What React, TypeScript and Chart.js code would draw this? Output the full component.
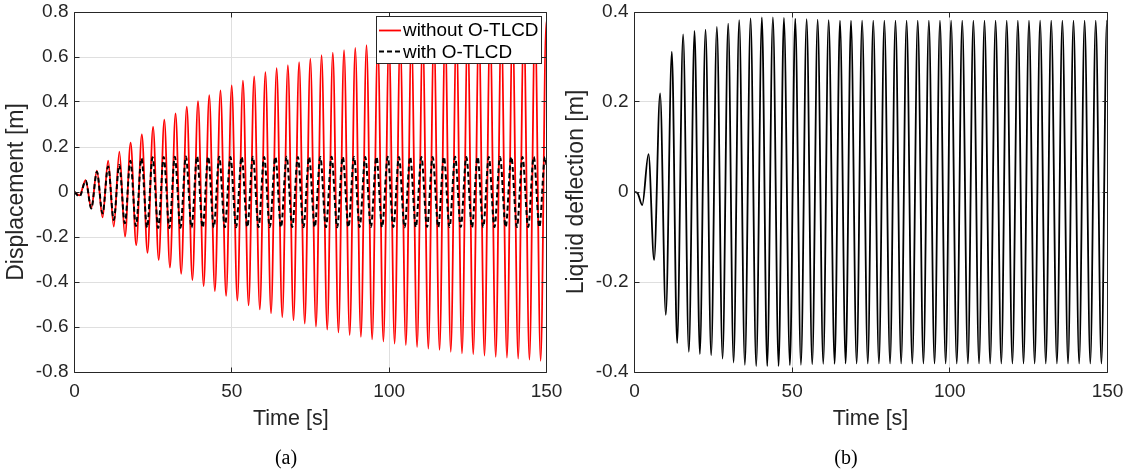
import React, { useEffect, useRef } from "react";
import { Chart, registerables } from "chart.js";

Chart.register(...registerables);

// ---------- data ----------
const xTicks = [0, 50, 100, 150];
const yTicksA = [-0.8, -0.6, -0.4, -0.2, 0, 0.2, 0.4, 0.6, 0.8];
const yTicksB = [-0.4, -0.2, 0, 0.2, 0.4];

// (a) without O-TLCD (red)
const redStartTimes = [0, 1.6];
const redStartValues = [0, -0.015];
const redPeakTimes = [3.55, 7.12, 10.69, 14.26, 17.83, 21.4, 24.97, 28.54, 32.11, 35.68, 39.25, 42.82, 46.39, 49.96, 53.53, 57.1, 60.67, 64.24, 67.81, 71.38, 74.95, 78.52, 82.09, 85.66, 89.23, 92.8, 96.37, 99.94, 103.51, 107.08, 110.65, 114.22, 117.79, 121.36, 124.93, 128.5, 132.07, 135.64, 139.21, 142.78, 146.35, 149.92];
const redPeakValues = [0.053, 0.095, 0.139, 0.179, 0.219, 0.256, 0.289, 0.321, 0.349, 0.379, 0.404, 0.43, 0.452, 0.474, 0.495, 0.514, 0.533, 0.55, 0.564, 0.577, 0.593, 0.608, 0.619, 0.631, 0.641, 0.653, 0.663, 0.672, 0.681, 0.689, 0.697, 0.704, 0.711, 0.718, 0.724, 0.73, 0.735, 0.74, 0.745, 0.749, 0.753, 0.757];
const redTroughTimes = [5.34, 8.91, 12.48, 16.05, 19.62, 23.19, 26.76, 30.33, 33.9, 37.47, 41.04, 44.61, 48.18, 51.75, 55.32, 58.89, 62.46, 66.03, 69.6, 73.17, 76.74, 80.31, 83.88, 87.45, 91.02, 94.59, 98.16, 101.73, 105.3, 108.87, 112.44, 116.01, 119.58, 123.15, 126.72, 130.29, 133.86, 137.43, 141.0, 144.57, 148.14];
const redTroughValues = [-0.072, -0.113, -0.154, -0.198, -0.236, -0.27, -0.302, -0.336, -0.364, -0.391, -0.418, -0.44, -0.462, -0.483, -0.504, -0.522, -0.539, -0.556, -0.57, -0.585, -0.598, -0.612, -0.624, -0.636, -0.644, -0.655, -0.664, -0.674, -0.681, -0.689, -0.696, -0.702, -0.71, -0.717, -0.721, -0.727, -0.733, -0.736, -0.741, -0.745, -0.75];
const redEndTimes = [150];
const redEndValues = [0.756];

// (a) with O-TLCD (black dashed)
const blackStartTimes = [0, 1.6];
const blackStartValues = [0, -0.02];
const blackPeakTimes = [3.55, 7.12, 10.69, 14.22, 17.75, 21.28, 24.82, 28.35, 31.88, 35.41, 38.95, 42.48, 45.99, 49.56, 53.13, 56.7, 60.27, 63.84, 67.41, 70.98, 74.55, 78.12, 81.69, 85.26, 88.83, 92.4, 95.97, 99.54, 103.11, 106.68, 110.25, 113.82, 117.39, 120.96, 124.53, 128.1, 131.67, 135.24, 138.81, 142.38, 145.95, 149.52];
const blackPeakValues = [0.05, 0.09, 0.113, 0.12, 0.139, 0.15, 0.154, 0.156, 0.157, 0.158, 0.158, 0.157, 0.157, 0.156, 0.156, 0.157, 0.156, 0.156, 0.157, 0.156, 0.156, 0.156, 0.157, 0.156, 0.156, 0.156, 0.156, 0.157, 0.156, 0.156, 0.156, 0.156, 0.156, 0.157, 0.156, 0.156, 0.156, 0.156, 0.156, 0.156, 0.156, 0.156];
const blackTroughTimes = [5.34, 8.91, 12.48, 16.01, 19.54, 23.07, 26.61, 30.14, 33.67, 37.2, 40.74, 44.27, 47.78, 51.35, 54.92, 58.49, 62.06, 65.63, 69.2, 72.77, 76.34, 79.91, 83.48, 87.05, 90.62, 94.19, 97.76, 101.33, 104.9, 108.47, 112.04, 115.61, 119.18, 122.75, 126.32, 129.89, 133.46, 137.03, 140.6, 144.17, 147.74];
const blackTroughValues = [-0.073, -0.095, -0.124, -0.139, -0.151, -0.158, -0.16, -0.16, -0.159, -0.158, -0.158, -0.157, -0.157, -0.157, -0.156, -0.156, -0.156, -0.157, -0.156, -0.156, -0.156, -0.156, -0.157, -0.156, -0.156, -0.156, -0.156, -0.156, -0.157, -0.156, -0.156, -0.156, -0.156, -0.156, -0.157, -0.156, -0.156, -0.156, -0.156, -0.156, -0.156];
const blackEndTimes = [150];
const blackEndValues = [0.12];

// (b) liquid deflection
const liqStartTimes = [0, 1.0, 2.45];
const liqStartValues = [0, -0.003, -0.029];
const liqPeakTimes = [4.44, 8.12, 11.84, 15.42, 19.04, 22.53, 26.12, 29.71, 33.2, 36.81, 40.4, 43.89, 47.38, 50.97, 54.59, 58.08, 61.57, 65.16, 68.65, 72.18, 75.71, 79.23, 82.76, 86.29, 89.82, 93.35, 96.87, 100.4, 103.93, 107.46, 110.99, 114.51, 118.04, 121.57, 125.1, 128.63, 132.15, 135.68, 139.21, 142.74, 146.27, 149.8];
const liqPeakValues = [0.084, 0.219, 0.312, 0.35, 0.358, 0.361, 0.367, 0.374, 0.382, 0.386, 0.388, 0.388, 0.387, 0.385, 0.384, 0.383, 0.382, 0.381, 0.381, 0.381, 0.381, 0.381, 0.381, 0.381, 0.381, 0.381, 0.381, 0.381, 0.381, 0.381, 0.381, 0.381, 0.381, 0.381, 0.381, 0.381, 0.381, 0.381, 0.381, 0.381, 0.381, 0.381];
const liqTroughTimes = [6.22, 9.93, 13.52, 17.23, 20.72, 24.31, 27.93, 31.42, 35.0, 38.59, 42.08, 45.7, 49.29, 52.78, 56.36, 59.85, 63.47, 66.96, 70.45, 73.98, 77.51, 81.04, 84.56, 88.09, 91.62, 95.15, 98.68, 102.2, 105.73, 109.26, 112.79, 116.32, 119.84, 123.37, 126.9, 130.43, 133.96, 137.48, 141.01, 144.54, 148.07];
const liqTroughValues = [-0.151, -0.273, -0.336, -0.355, -0.36, -0.363, -0.37, -0.379, -0.384, -0.387, -0.387, -0.387, -0.385, -0.384, -0.383, -0.382, -0.382, -0.381, -0.381, -0.381, -0.381, -0.381, -0.381, -0.381, -0.381, -0.381, -0.381, -0.381, -0.381, -0.381, -0.381, -0.381, -0.381, -0.381, -0.381, -0.381, -0.381, -0.381, -0.381, -0.381, -0.381];
const liqEndTimes = [150];
const liqEndValues = [0.378];

const legendLabels = ["without O-TLCD", "with O-TLCD"];
const xTitle = "Time [s]";

// ---------- styling ----------
const FONT = "'Liberation Sans', Arial, Helvetica, sans-serif";
const TEXT = "#262626";
const GRID = "#dfdfdf";

function buildSeries(parts: Array<[number[], number[]]>) {
  const pts: { x: number; y: number }[] = [];
  for (const [ts, vs] of parts) ts.forEach((t, i) => pts.push({ x: t, y: vs[i] }));
  pts.sort((a, b) => a.x - b.x);
  return pts;
}

const align = (v: number) => Math.round(v - 0.5) + 0.5;

const framePlugin = {
  id: "frame",
  afterDatasetsDraw(chart: any) {
    const { ctx, chartArea: a, scales } = chart;
    const L = align(a.left), R = align(a.right), T = align(a.top), B = align(a.bottom);
    ctx.save();
    ctx.strokeStyle = TEXT;
    ctx.lineWidth = 1;
    ctx.setLineDash([]);
    ctx.beginPath();
    ctx.rect(L, T, R - L, B - T);
    const tl = 5;
    for (const t of scales.x.ticks) {
      const px = align(scales.x.getPixelForValue(t.value));
      ctx.moveTo(px, B); ctx.lineTo(px, B - tl);
      ctx.moveTo(px, T); ctx.lineTo(px, T + tl);
    }
    for (const t of scales.y.ticks) {
      const py = align(scales.y.getPixelForValue(t.value));
      ctx.moveTo(L, py); ctx.lineTo(L + tl, py);
      ctx.moveTo(R, py); ctx.lineTo(R - tl, py);
    }
    ctx.stroke();
    ctx.restore();
  },
};

function makeXTitlePlugin(cx: number) {
  return {
    id: "xTitle",
    afterDraw(chart: any) {
      const { ctx } = chart;
      ctx.save();
      ctx.fillStyle = TEXT;
      ctx.font = `21.5px ${FONT}`;
      ctx.textAlign = "center";
      ctx.textBaseline = "alphabetic";
      ctx.fillText(xTitle, cx, 425);
      ctx.restore();
    },
  };
}

const legendPlugin = {
  id: "insideLegend",
  afterDraw(chart: any) {
    const { ctx } = chart;
    ctx.save();
    const bx = 376.5, by = 16.5, bw = 165, bh = 47;
    ctx.fillStyle = "#ffffff";
    ctx.fillRect(bx, by, bw, bh);
    ctx.strokeStyle = TEXT;
    ctx.lineWidth = 1;
    ctx.strokeRect(bx, by, bw, bh);
    ctx.strokeStyle = "#ff0000";
    ctx.lineWidth = 1.8;
    ctx.beginPath();
    ctx.moveTo(379, 30.5); ctx.lineTo(401, 30.5);
    ctx.stroke();
    ctx.strokeStyle = "#000000";
    ctx.lineWidth = 2;
    ctx.setLineDash([5, 3]);
    ctx.beginPath();
    ctx.moveTo(379, 51.5); ctx.lineTo(401, 51.5);
    ctx.stroke();
    ctx.setLineDash([]);
    ctx.fillStyle = "#000000";
    ctx.font = `18.9px ${FONT}`;
    ctx.textBaseline = "middle";
    ctx.textAlign = "left";
    ctx.fillText(legendLabels[0], 403, 31);
    ctx.fillText(legendLabels[1], 403, 52.6);
    ctx.restore();
  },
};

function makeOptions(yMin: number, yMax: number, yTicks: number[], yTitle: string, padRight: number) {
  return {
    responsive: false,
    animation: false as const,
    events: [] as any[],
    layout: { padding: { left: 0, right: padRight, top: 12, bottom: 40 } },
    plugins: { legend: { display: false }, tooltip: { enabled: false } },
    elements: { point: { radius: 0 } },
    scales: {
      x: {
        type: "linear" as const,
        min: 0,
        max: 150,
        afterBuildTicks: (s: any) => { s.ticks = xTicks.map((v) => ({ value: v })); },
        afterFit: (s: any) => {
          s.height = 62;
          s.paddingLeft = 0; s.paddingRight = 0; s.paddingTop = 0; s.paddingBottom = 0;
        },
        grid: { color: GRID, lineWidth: 1, drawTicks: false },
        border: { display: false },
        ticks: {
          padding: 8,
          color: TEXT,
          font: { family: FONT, size: 19 },
          maxRotation: 0,
          callback: (v: any) => String(v),
        },
        title: { display: false },
      },
      y: {
        type: "linear" as const,
        min: yMin,
        max: yMax,
        afterBuildTicks: (s: any) => { s.ticks = yTicks.map((v) => ({ value: v })); },
        afterFit: (s: any) => {
          s.width = 74.5;
          s.paddingLeft = 0; s.paddingRight = 0; s.paddingTop = 0; s.paddingBottom = 0;
        },
        grid: { color: GRID, lineWidth: 1, drawTicks: false },
        border: { display: false },
        ticks: {
          padding: 6,
          color: TEXT,
          font: { family: FONT, size: 19 },
          callback: (v: any) => {
            const n = Math.round(v * 10) / 10;
            return n === 0 ? "0" : String(n);
          },
        },
        title: { display: true, text: yTitle, color: TEXT, font: { family: FONT, size: 23 }, padding: { top: 3, bottom: 0 } },
      },
    },
  };
}

export default function App() {
  const leftRef = useRef<HTMLCanvasElement>(null);
  const rightRef = useRef<HTMLCanvasElement>(null);

  useEffect(() => {
    const red = buildSeries([
      [redStartTimes, redStartValues],
      [redPeakTimes, redPeakValues],
      [redTroughTimes, redTroughValues],
      [redEndTimes, redEndValues],
    ]);
    const black = buildSeries([
      [blackStartTimes, blackStartValues],
      [blackPeakTimes, blackPeakValues],
      [blackTroughTimes, blackTroughValues],
      [blackEndTimes, blackEndValues],
    ]);
    const liq = buildSeries([
      [liqStartTimes, liqStartValues],
      [liqPeakTimes, liqPeakValues],
      [liqTroughTimes, liqTroughValues],
      [liqEndTimes, liqEndValues],
    ]);

    const left = new Chart(leftRef.current!, {
      type: "line",
      data: {
        datasets: [
          {
            label: legendLabels[1],
            data: black,
            borderColor: "#000000",
            borderWidth: 2,
            borderDash: [5, 3],
            cubicInterpolationMode: "monotone",
            pointRadius: 0,
            fill: false,
          },
          {
            label: legendLabels[0],
            data: red,
            borderColor: "#ff0000",
            borderWidth: 1.8,
            cubicInterpolationMode: "monotone",
            pointRadius: 0,
            fill: false,
          },
        ],
      },
      options: makeOptions(-0.8, 0.8, yTicksA, "Displacement [m]", 20.5) as any,
      plugins: [framePlugin, legendPlugin, makeXTitlePlugin(290.8)],
    });

    const right = new Chart(rightRef.current!, {
      type: "line",
      data: {
        datasets: [
          {
            label: "Liquid deflection",
            data: liq,
            borderColor: "#000000",
            borderWidth: 1.8,
            cubicInterpolationMode: "monotone",
            pointRadius: 0,
            fill: false,
          },
        ],
      },
      options: makeOptions(-0.4, 0.4, yTicksB, "Liquid deflection [m]", 26.5) as any,
      plugins: [framePlugin, makeXTitlePlugin(310.5)],
    });

    return () => {
      left.destroy();
      right.destroy();
    };
  }, []);

  const captionStyle: React.CSSProperties = {
    position: "absolute",
    top: 446,
    width: 100,
    textAlign: "center",
    fontFamily: "'Liberation Serif', 'DejaVu Serif', serif",
    fontSize: 20,
    color: "#000",
  };

  return (
    <div style={{ position: "absolute", left: 0, top: 0, width: 1134, height: 474, background: "#ffffff", overflow: "hidden" }}>
      <canvas ref={leftRef} width={567} height={474} style={{ position: "absolute", left: 0, top: 0, width: 567, height: 474 }} />
      <canvas ref={rightRef} width={574} height={474} style={{ position: "absolute", left: 560, top: 0, width: 574, height: 474 }} />
      <div style={{ ...captionStyle, left: 236 }}>(a)</div>
      <div style={{ ...captionStyle, left: 796 }}>(b)</div>
    </div>
  );
}
